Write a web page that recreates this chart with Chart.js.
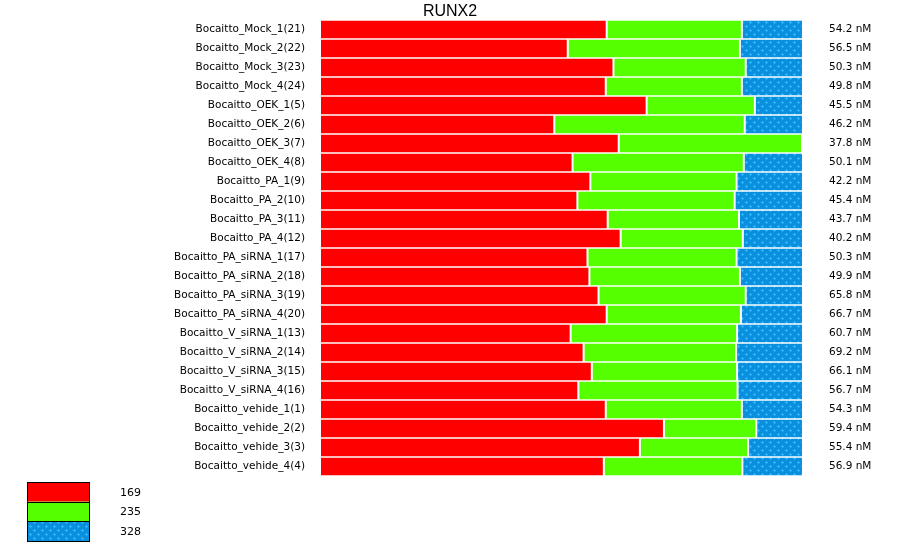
<!DOCTYPE html>
<html>
<head>
<meta charset="utf-8">
<script src="https://cdn.jsdelivr.net/npm/chart.js@4/dist/chart.umd.min.js"></script>
<style>
  html, body { margin: 0; padding: 0; background: #fff; }
  #wrap { width: 900px; height: 546px; }
</style>
</head>
<body>
<div id="wrap"><canvas id="chart" width="900" height="546"></canvas></div>
<script>
// categories (samples) top to bottom
var categories = [
  'Bocaitto_Mock_1(21)', 'Bocaitto_Mock_2(22)', 'Bocaitto_Mock_3(23)', 'Bocaitto_Mock_4(24)',
  'Bocaitto_OEK_1(5)', 'Bocaitto_OEK_2(6)', 'Bocaitto_OEK_3(7)', 'Bocaitto_OEK_4(8)',
  'Bocaitto_PA_1(9)', 'Bocaitto_PA_2(10)', 'Bocaitto_PA_3(11)', 'Bocaitto_PA_4(12)',
  'Bocaitto_PA_siRNA_1(17)', 'Bocaitto_PA_siRNA_2(18)', 'Bocaitto_PA_siRNA_3(19)', 'Bocaitto_PA_siRNA_4(20)',
  'Bocaitto_V_siRNA_1(13)', 'Bocaitto_V_siRNA_2(14)', 'Bocaitto_V_siRNA_3(15)', 'Bocaitto_V_siRNA_4(16)',
  'Bocaitto_vehide_1(1)', 'Bocaitto_vehide_2(2)', 'Bocaitto_vehide_3(3)', 'Bocaitto_vehide_4(4)'
]
// right hand labels
var nmLabels = [
  '54.2 nM', '56.5 nM', '50.3 nM', '49.8 nM', '45.5 nM', '46.2 nM', '37.8 nM', '50.1 nM',
  '42.2 nM', '45.4 nM', '43.7 nM', '40.2 nM', '50.3 nM', '49.9 nM', '65.8 nM', '66.7 nM',
  '60.7 nM', '69.2 nM', '66.1 nM', '56.7 nM', '54.3 nM', '59.4 nM', '55.4 nM', '56.9 nM'
]
var seriesNames = ['169', '235', '328']
// percent of each bar
var s169 = [59.4, 51.3, 60.8, 59.2, 67.7, 48.5, 61.9, 52.3, 56.0, 53.3, 59.6, 62.3,
            55.4, 55.8, 57.7, 59.4, 51.9, 54.6, 56.3, 53.5, 59.2, 71.3, 66.3, 58.8]
var s235 = [28.1, 35.8, 27.5, 28.3, 22.5, 39.6, 38.1, 35.6, 30.4, 32.7, 27.3, 25.4,
            31.0, 31.3, 30.6, 27.9, 34.6, 31.7, 30.2, 33.1, 28.3, 19.2, 22.5, 28.8]
var s328 = [12.5, 12.9, 11.7, 12.5, 9.8, 11.9, 0, 12.1, 13.6, 14.0, 13.1, 12.3,
            13.6, 12.9, 11.7, 12.7, 13.5, 13.7, 13.5, 13.4, 12.5, 9.5, 11.2, 12.4]

//蓝色花纹
function makePattern() {
    var c = document.createElement('canvas')
    c.width = 8
    c.height = 8
    var g = c.getContext('2d')
    g.fillStyle = '#0a8fdc'
    g.fillRect(0, 0, 8, 8)
    g.fillStyle = '#2eb4ff'
    function plus(x, y) {
        g.fillRect(x - 1, y, 3, 1)
        g.fillRect(x, y - 1, 1, 3)
    }
    plus(2, 2)
    plus(6, 6)
    return g.createPattern(c, 'repeat')
}
var bluePattern = makePattern()

var FONT = 'DejaVu Sans'

//标题和图例
var extras = {
    id: 'extras',
    afterDraw: function (chart) {
        var ctx = chart.ctx
        ctx.save()
        ctx.fillStyle = '#000'
        ctx.font = '16px "Liberation Sans"'
        ctx.textAlign = 'center'
        ctx.textBaseline = 'alphabetic'
        ctx.fillText('RUNX2', chart.width / 2, 15.5)
        var h = 19.7
        chart.data.datasets.forEach(function (ds, i) {
            var y = 482 + i * h
            ctx.fillStyle = ds.backgroundColor
            ctx.fillRect(27, y, 62, h)
            ctx.strokeStyle = '#000'
            ctx.lineWidth = 1
            ctx.strokeRect(27.5, Math.round(y) + 0.5, 62, Math.round(h))
            ctx.fillStyle = '#000'
            ctx.font = '11px "' + FONT + '"'
            ctx.textAlign = 'left'
            ctx.textBaseline = 'middle'
            ctx.fillText(ds.label, 120, y + h / 2 + 1)
        })
        ctx.restore()
    }
}

var ctx = document.getElementById('chart').getContext('2d')
new Chart(ctx, {
    type: 'bar',
    data: {
        labels: categories,
        datasets: [
            { label: seriesNames[0], data: s169, backgroundColor: '#ff0000',
              borderColor: '#ffffff', borderWidth: { left: 0, right: 1, top: 0, bottom: 0 } },
            { label: seriesNames[1], data: s235, backgroundColor: '#55ff00',
              borderColor: '#ffffff', borderWidth: { left: 1, right: 1, top: 0, bottom: 0 } },
            { label: seriesNames[2], data: s328, backgroundColor: bluePattern,
              borderColor: '#ffffff', borderWidth: { left: 1, right: 0, top: 0, bottom: 0 } }
        ]
    },
    options: {
        indexAxis: 'y',
        responsive: false,
        animation: false,
        events: [],
        datasets: {
            bar: { categoryPercentage: 1, barPercentage: 0.95, borderSkipped: false }
        },
        layout: { padding: { top: 20, bottom: 70, left: 0, right: 0 } },
        plugins: {
            legend: { display: false },
            title: { display: false },
            tooltip: { enabled: false }
        },
        scales: {
            x: {
                stacked: true, min: 0, max: 100, display: false
            },
            y: {
                stacked: true,
                position: 'left',
                grid: { display: false, drawTicks: true, tickLength: 16 },
                border: { display: false },
                ticks: { color: '#000', padding: 0, font: { family: FONT, size: 10.5 } },
                afterFit: function (s) { s.width = 321 }
            },
            y2: {
                type: 'category',
                labels: nmLabels,
                position: 'right',
                offset: true,
                grid: { display: false, drawTicks: true, tickLength: 27 },
                border: { display: false },
                ticks: { color: '#000', padding: 0, font: { family: FONT, size: 10.5 } },
                afterFit: function (s) { s.width = 98 }
            }
        }
    },
    plugins: [extras]
})
</script>
</body>
</html>
